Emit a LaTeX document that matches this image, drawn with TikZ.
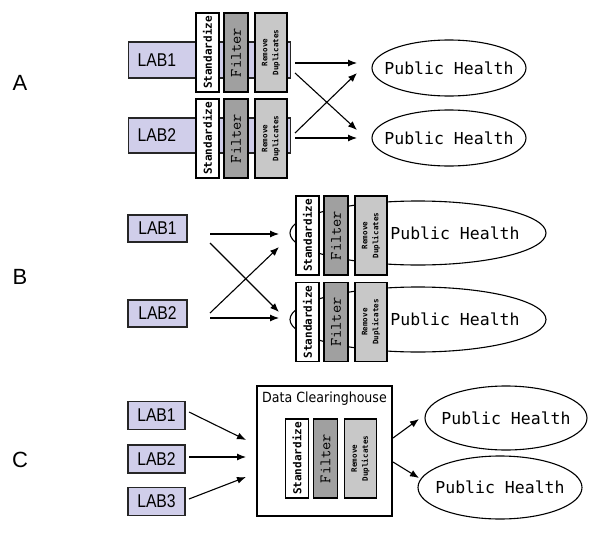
\documentclass[tikz,border=0pt]{standalone}
\usepackage{fontspec}
\setmainfont{Liberation Sans}
\newfontfamily\labfont[FakeStretch=0.85]{Liberation Sans}
\newfontfamily\monofont{DejaVu Sans Mono}
\newfontfamily\housefont[FakeStretch=0.9]{DejaVu Sans}
\usetikzlibrary{shapes.geometric,arrows.meta}
\definecolor{labfill}{RGB}{208,206,234}
\definecolor{filtfill}{RGB}{160,160,160}
\definecolor{dupfill}{RGB}{200,200,200}

\begin{document}
\begin{tikzpicture}[x=1pt,y=-1pt,line width=1.1pt]
    \tikzstyle{lab}=[draw=black!85,fill=labfill,minimum width=58pt,minimum height=27pt,inner sep=0pt,font=\labfont\fontsize{18.5}{18.5}\selectfont]
    \tikzstyle{stdbox}=[draw,fill=white,rotate=90,minimum width=79pt,minimum height=23pt,inner sep=0pt,font=\monofont\bfseries\fontsize{11}{11}\selectfont]
    \tikzstyle{filtbox}=[draw,fill=filtfill,rotate=90,minimum width=79pt,minimum height=24pt,inner sep=0pt,font=\ttfamily\fontsize{16}{16}\selectfont]
    \tikzstyle{dupbox}=[draw,fill=dupfill,rotate=90,minimum width=79pt,minimum height=32pt,inner sep=0pt,align=center,font=\monofont\bfseries\fontsize{7.5}{11}\selectfont]
    \tikzstyle{health}=[draw,fill=white,ellipse,inner sep=0pt,font=\monofont\fontsize{16.5}{16.5}\selectfont]
    \tikzstyle{part}=[font=\fontsize{22}{22}\selectfont]
    \tikzstyle{arr}=[-{Latex[length=9pt,width=7pt]}]
    \useasboundingbox (0,0) rectangle (600,538);

    \node[part] (A) at (20,83) {A};
    \node[part] (B) at (20,277) {B};
    \node[part] (C) at (20,460) {C};

    % A: every lab cleans its own data
    \node[lab,anchor=west,minimum width=162pt,minimum height=36pt,text width=144pt,inner xsep=9pt,align=left] (labA1) at (128,60) {LAB1};
    \node[lab,anchor=west,minimum width=162pt,minimum height=35pt,text width=144pt,inner xsep=9pt,align=left] (labA2) at (128,135.5) {LAB2};
    \node[health,minimum width=154pt,minimum height=56pt] (phA1) at (449,68) {\makebox[0pt]{Public Health}};
    \node[health,minimum width=154pt,minimum height=56pt] (phA2) at (449,138) {\makebox[0pt]{Public Health}};

    % B: every public health office cleans the data
    \node[lab,minimum width=59pt] (labB1) at (157.5,228.5) {LAB1};
    \node[lab,minimum width=59pt] (labB2) at (157.5,313.5) {LAB2};
    \node[health,minimum width=256pt,minimum height=64pt] (phB1) at (418,233) {\makebox[0pt]{\hspace*{74pt}Public Health}};
    \node[health,minimum width=256pt,minimum height=65pt] (phB2) at (418,319.5) {\makebox[0pt]{\hspace*{74pt}Public Health}};

    % C: one clearinghouse
    \foreach \num/\y in {1/415.5, 2/459, 3/501.5}
        \node[lab,minimum width=57pt,minimum height=28pt] (labC\num) at (156.5,\y) {LAB\num};
    \node[draw,fill=white,minimum width=135pt,minimum height=130pt,inner sep=0pt,
          label={[anchor=north,yshift=-3pt,font=\housefont\fontsize{14}{14}\selectfont]north:Data Clearinghouse}] (house) at (324.5,451) {};
    \node[health,minimum width=162pt,minimum height=64pt] (phC1) at (506,418) {\makebox[0pt]{Public Health}};
    \node[health,minimum width=164pt,minimum height=63pt] (phC2) at (500,487.5) {\makebox[0pt]{Public Health}};

    \foreach \n/\x/\y in {A1/207.5/52.5, A2/207.5/138.5, B1/307.5/235.5, B2/307.5/322, C/297/458.5}{
        \node[stdbox] (std-\n) at (\x,\y) {Standardize};
        \node[filtbox] (filt-\n) at (\x+28.5,\y) {Filter};
        \node[dupbox] (dup-\n) at (\x+63.5,\y) {Remove\\Duplicates};
    }

    \coordinate (aout1) at (295,63);   \coordinate (ain1) at (357,63);
    \coordinate (aout1x) at (295,73);  \coordinate (ain1x) at (357,73);
    \coordinate (aout2x) at (295,133); \coordinate (ain2x) at (357,130);
    \coordinate (aout2) at (295,138);  \coordinate (ain2) at (357,138);
    \coordinate (bout1) at (210,234);  \coordinate (bin1) at (279,234);
    \coordinate (bout1x) at (210,243); \coordinate (bin1x) at (279,247);
    \coordinate (bout2x) at (210,313); \coordinate (bin2x) at (279,312);
    \coordinate (bout2) at (210,318);  \coordinate (bin2) at (279,318);
    \coordinate (cout1) at (189,412);  \coordinate (cin1) at (246,440);
    \coordinate (cout2) at (189,457);  \coordinate (cin2) at (246,457);
    \coordinate (cout3) at (189,499);  \coordinate (cin3) at (246,477);
    \coordinate (hout1) at (393,438);  \coordinate (hin1) at (419,419);
    \coordinate (hout2) at (393,462);  \coordinate (hin2) at (419,478);

    \foreach \from/\to in {aout1/ain1, aout1x/ain2x, aout2x/ain1x, aout2/ain2,
                           bout1/bin1, bout1x/bin2x, bout2x/bin1x, bout2/bin2,
                           cout1/cin1, cout2/cin2, cout3/cin3, hout1/hin1, hout2/hin2}
        \draw[arr] (\from) -- (\to);
\end{tikzpicture}
\end{document}
